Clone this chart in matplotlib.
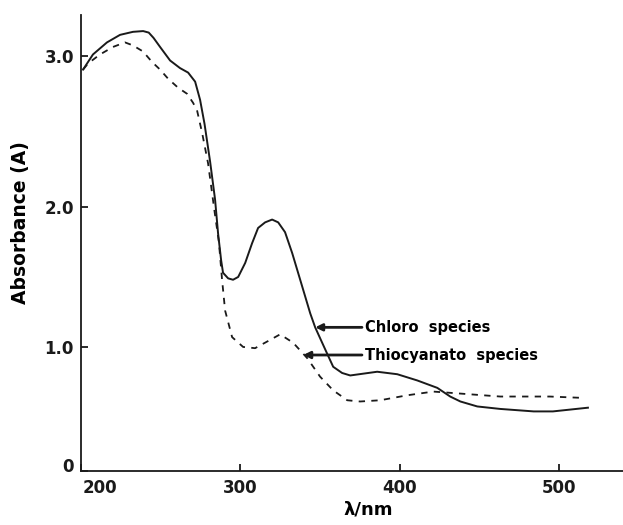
import numpy as np
import matplotlib
matplotlib.use("Agg")
import matplotlib.pyplot as plt
from matplotlib.transforms import ScaledTranslation

# absorbance spectra
chloro_wl = [201.3, 207.5, 216.3, 224.5, 232.6, 239, 242.5, 245.5, 249.6, 255.9, 262.1,
             267.2, 271.6, 274.7, 277.5, 281, 284.1, 286, 287.9, 289.1, 292.3,
             295.4, 298.6, 303, 307.3, 311.1, 315.5, 319.9, 323.7, 328, 332.5,
             337.5, 343.8, 346.9, 353.2, 358.2, 363.8, 368.9, 385.8, 398.4, 410.9,
             423.5, 431.6, 438, 448.6, 463, 484, 496, 518]
chloro_abs = [2.91, 3.01, 3.09, 3.14, 3.16, 3.165, 3.155, 3.12, 3.06, 2.97, 2.92,
              2.89, 2.83, 2.71, 2.55, 2.30, 2.05, 1.81, 1.62, 1.53, 1.49,
              1.48, 1.50, 1.60, 1.74, 1.85, 1.89, 1.91, 1.89, 1.82, 1.67,
              1.48, 1.24, 1.14, 0.98, 0.84, 0.79, 0.77, 0.80, 0.78, 0.73,
              0.67, 0.60, 0.56, 0.52, 0.50, 0.48, 0.48, 0.51]

thio_wl = [201.3, 204.4, 211.9, 220.1, 227.6, 232.6, 238.9, 244.6, 249.6, 254.6,
           260.9, 266.5, 270.3, 272.8, 276, 279.7, 284, 286.5, 288.5, 290.4,
           294.8, 301.7, 309.2, 318.6, 324.9, 333.1, 341.9, 350, 358.2, 367,
           375.1, 387.7, 404.6, 421, 431.6, 442, 463, 494, 513]
thio_abs = [2.91, 2.95, 3.01, 3.06, 3.09, 3.07, 3.03, 2.96, 2.91, 2.85,
            2.79, 2.75, 2.69, 2.64, 2.49, 2.29, 1.95, 1.75, 1.48, 1.26,
            1.07, 1.00, 0.99, 1.05, 1.09, 1.03, 0.91, 0.76, 0.65, 0.57,
            0.56, 0.57, 0.61, 0.64, 0.63, 0.62, 0.60, 0.60, 0.59]

y_ticks = [0, 1, 2, 3]
y_tick_labels = ["0", "1.0", "2.0", "3.0"]
x_ticks = [200, 300, 400, 500]

# the scanned y axis is not evenly spaced, so map tick values onto their drawn heights
_vals = [-1, 0, 1, 2, 3, 4]
_hts = [-124, 0, 124, 264, 415, 566]


def fwd(v):
    return np.interp(v, _vals, _hts)


def inv(h):
    return np.interp(h, _hts, _vals)


fig = plt.figure(figsize=(6.23, 5.25), dpi=100)
ax = fig.add_axes([0.130, 0.103, 0.870, 0.868])
ax.set_yscale("function", functions=(fwd, inv))

ink = "#1a1a1a"
ax.plot(chloro_wl, chloro_abs, color=ink, lw=1.4, solid_joinstyle="round")
ax.plot(thio_wl, thio_abs, color=ink, lw=1.3, linestyle=(0, (3.5, 3.5)))

ax.set_xlim(200, 540)
ax.set_ylim(0, 3.27)

ax.spines["top"].set_visible(False)
ax.spines["right"].set_visible(False)
for s in ["left", "bottom"]:
    ax.spines[s].set_linewidth(1.3)
    ax.spines[s].set_color(ink)

ax.set_xticks(x_ticks)
ax.set_yticks(y_ticks)
ax.set_yticklabels(y_tick_labels)
ax.tick_params(direction="in", length=5, width=1.3, colors=ink, labelsize=12)
for lab in ax.get_xticklabels() + ax.get_yticklabels():
    lab.set_fontweight("bold")
ax.tick_params(axis="x", pad=6)
ax.tick_params(axis="y", pad=5)

# "200" sits to the right of the corner and "0" slightly above it
first_x = ax.get_xticklabels()[0]
first_x.set_horizontalalignment("left")
first_x.set_transform(first_x.get_transform() + ScaledTranslation(0.02, 0, fig.dpi_scale_trans))
first_y = ax.get_yticklabels()[0]
first_y.set_transform(first_y.get_transform() + ScaledTranslation(0, 0.06, fig.dpi_scale_trans))

ax.set_xlabel("λ/nm", fontsize=13, fontweight="bold")
ax.xaxis.set_label_coords(0.53, -0.064)
ax.set_ylabel("Absorbance (A)", fontsize=13.5, fontweight="bold")
ax.yaxis.set_label_coords(-0.094, 0.545)

arrow = dict(arrowstyle="-|>", color=ink, lw=2, shrinkA=0, shrinkB=0,
             mutation_scale=10)
ax.annotate("Chloro  species", xy=(346.9, 1.14), xytext=(378, 1.14),
            ha="left", va="center", fontsize=10.5, fontweight="bold",
            arrowprops=arrow)
ax.annotate("Thiocyanato  species", xy=(339.4, 0.935), xytext=(378, 0.935),
            ha="left", va="center", fontsize=10.5, fontweight="bold",
            arrowprops=arrow)

plt.savefig("out.png", dpi=100)
